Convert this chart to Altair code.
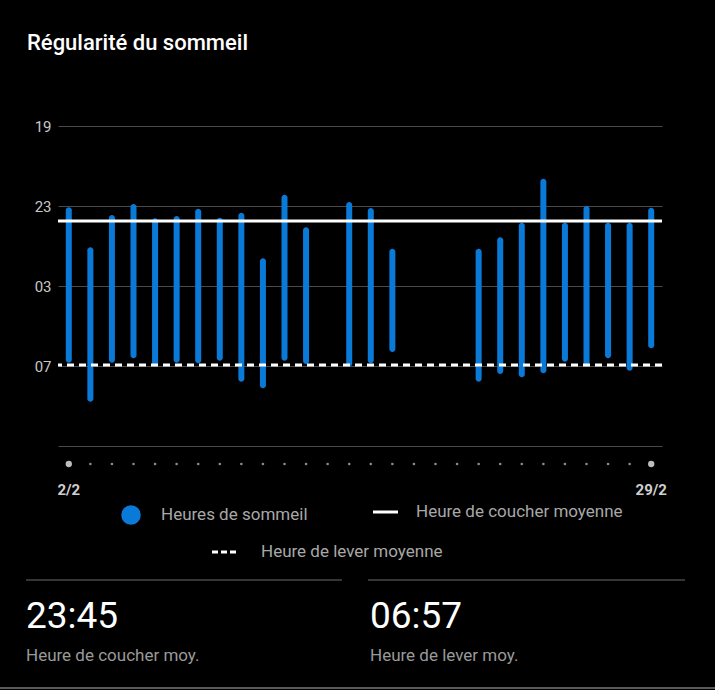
import altair as alt
import pandas as pd

# ---------------- data ----------------
days     = [2, 3, 4, 5, 6, 7, 8, 9, 10, 11, 12, 13, 15, 16, 17, 21, 22, 23, 24, 25, 26, 27, 28, 29]
bedtimes = ["23:04", "01:04", "23:27", "22:54", "23:37", "23:30", "23:08", "23:35", "23:20", "01:37",
            "22:26", "00:04", "22:48", "23:06", "01:08", "01:08", "00:34", "23:50", "21:38", "23:50",
            "23:00", "23:50", "23:50", "23:05"]
wakeups  = ["06:50", "08:47", "06:50", "06:37", "07:02", "06:50", "06:52", "06:44", "07:47", "08:07",
            "06:44", "06:54", "07:02", "06:52", "06:18", "07:47", "07:24", "07:34", "07:22", "06:47",
            "07:02", "06:37", "07:14", "06:07"]
all_days = list(range(2, 30))
end_labels = ["2/2", "29/2"]
end_days = [2, 29]
avg_bed = "23:45"
avg_wake = "06:57"
y_ticks = [0, 4, 8, 12, 16]   # hours after 19:00

title_text = "Régularité du sommeil"
legend_labels = ["Heures de sommeil", "Heure de coucher moyenne", "Heure de lever moyenne"]
stat_values = [avg_bed, avg_wake]
stat_labels = ["Heure de coucher moy.", "Heure de lever moy."]

BLUE = "#0a7ad9"
FONT = "Roboto"


def hours_after_19(s):
    h, m = s.split(":")
    return (int(h) + int(m) / 60 - 19) % 24


sleep = pd.DataFrame({
    "day": days,
    "start": [hours_after_19(s) for s in bedtimes],
    "end": [hours_after_19(s) for s in wakeups],
})
dots = pd.DataFrame({"day": all_days})
ends = pd.DataFrame({"day": end_days, "label": end_labels})
one = alt.Data(values=[{"k": 1}])

xs = alt.Scale(domain=[1.5, 29.5], nice=False, zero=False, padding=0)
ys = alt.Scale(domain=[0, 16], reverse=True, nice=False, zero=False, padding=0)

bars = alt.Chart(sleep).mark_bar(size=6, cornerRadius=3, color=BLUE).encode(
    x=alt.X("day:Q", scale=xs, axis=None),
    y=alt.Y("start:Q", scale=ys, axis=alt.Axis(
        values=y_ticks, grid=True, gridColor="#4a4a4a", gridWidth=1, domain=False, ticks=False,
        labelPadding=7, labelFontSize=15, labelColor="#c8c8c8", labelFont=FONT,
        labelExpr="datum.value >= 16 ? '' : format((datum.value + 19) % 24, '02d')", title=None)),
    y2="end:Q",
)

bed_line = alt.Chart(one).mark_rule(color="white", strokeWidth=3).encode(
    y=alt.datum(hours_after_19(avg_bed), scale=ys))
wake_line = alt.Chart(one).mark_rule(color="white", strokeWidth=3, strokeDash=[7, 5]).encode(
    y=alt.datum(hours_after_19(avg_wake), scale=ys))

dot_layer = alt.Chart(dots).mark_circle(opacity=1).encode(
    x=alt.X("day:Q", scale=xs),
    y=alt.value(338),
    size=alt.condition("datum.day == 2 || datum.day == 29", alt.value(40), alt.value(7)),
    color=alt.condition("datum.day == 2 || datum.day == 29", alt.value("#bdbdbd"), alt.value("#8a8a8a")),
)

end_text = alt.Chart(ends).mark_text(fontSize=15, fontWeight="bold", color="#cfcfcf", font=FONT,
                                     baseline="middle").encode(
    x=alt.X("day:Q", scale=xs), y=alt.value(364), text="label:N")


def txt(s, px, py, size, color, weight="normal", baseline="alphabetic"):
    return alt.Chart(one).mark_text(text=s, fontSize=size, color=color, font=FONT, fontWeight=weight,
                                    align="left", baseline=baseline).encode(
        x=alt.value(px), y=alt.value(py))


def hline(x1, x2, py, color, width, dash=None):
    kw = dict(color=color, strokeWidth=width)
    if dash:
        kw["strokeDash"] = dash
    return alt.Chart(one).mark_rule(**kw).encode(x=alt.value(x1), x2=alt.value(x2), y=alt.value(py))


legend_dot = alt.Chart(one).mark_circle(color=BLUE, opacity=1, size=380).encode(
    x=alt.value(73), y=alt.value(389))

layers = [
    bars, bed_line, wake_line, dot_layer, end_text,
    legend_dot,
    txt(legend_labels[0], 103, 389, 17, "#a8a8a8", baseline="middle"),
    hline(315, 340, 386, "white", 3),
    txt(legend_labels[1], 358, 386, 17, "#a8a8a8", baseline="middle"),
    hline(154, 178, 426, "white", 3, [6, 3]),
    txt(legend_labels[2], 203, 426, 17, "#a8a8a8", baseline="middle"),
    hline(-32, 284, 454, "#353535", 2),
    hline(310, 627, 454, "#353535", 2),
    txt(stat_values[0], -32, 502, 37, "white"),
    txt(stat_labels[0], -32, 535, 17, "#9a9a9a"),
    txt(stat_values[1], 312, 502, 37, "white"),
    txt(stat_labels[1], 312, 535, 17, "#9a9a9a"),
    hline(-58, 657, 562, "#5a5a5a", 2),
]

chart = alt.layer(*layers).properties(
    width=604, height=320,
    padding={"left": 58, "top": 126, "right": 53, "bottom": 244},
    autosize=alt.AutoSizeParams(type="none"),
    background="black",
    title=alt.TitleParams(title_text, anchor="start", fontSize=22, fontWeight=500, color="white",
                          font=FONT, dx=28, dy=-60),
).configure_view(stroke=None)

chart.save("out.html", embed_options={"renderer": "svg", "actions": False})
